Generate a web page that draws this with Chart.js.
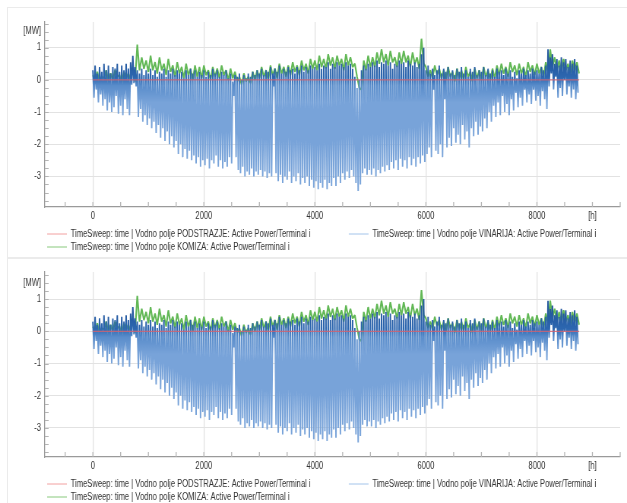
<!DOCTYPE html>
<html>
<head>
<meta charset="utf-8">
<script src="https://cdn.jsdelivr.net/npm/chart.js@4.4.1/dist/chart.umd.min.js"></script>
<style>
  body { margin: 0; background: #fff; width: 627px; height: 503px; overflow: hidden; position: relative; }
  .card { position: absolute; left: 7px; width: 640px; height: 250px; border: 1px solid #ebebeb; }
  /* the source screenshot is squeezed horizontally, so draw wide and squeeze */
  canvas { position: absolute; left: 0; transform: scaleX(0.76); transform-origin: 0 0; }
</style>
</head>
<body>
<div class="card" style="top:7px"></div>
<div class="card" style="top:257px"></div>
<canvas id="chart1" width="825" height="262" style="top:0"></canvas>
<canvas id="chart2" width="825" height="262" style="top:250px"></canvas>
<script>
// hours step between daily samples
const vinStep = 40;
const komStep = 80;

// VINARIJA: daily peaks and troughs [MW]
const vinTop = [
  0.3, 0.45, 0.2, 0.4, 0.25, 0.5, 0.3, 0.45, 0.2, 0.4, 0.35, 0.5, 0.25, 0.45, 0.3, 0.5, 0.35, 0.55, 0.75, 0.4, 0.3, 0.2, 0.35, 0.15, 0.3,
  0.2, 0.35, 0.15, 0.3, 0.1, 0.25, 0.2, 0.35, 0.1, 0.3, 0.2, 0.35, 0.15, 0.3, 0.2, 0.25, 0.05, 0.3, 0.15, 0.35, 0.2, 0.3, 0.1, 0.25, 0.15,
  0.3, 0.1, 0.25, 0.15, 0.35, 0.2, 0.3, 0.1, 0.25, 0.15, 0.3, 0.05, 0.2, -0.05, 0.15, 0.1, 0.2, 0.0, 0.15, 0.05, 0.2, 0.1, 0.25, 0.15, 0.3,
  0.2, 0.35, 0.15, 0.3, 0.25, 0.4, 0.2, 0.35, 0.25, 0.45, 0.2, 0.35, 0.25, 0.4, 0.3, 0.35, 0.2, 0.4, 0.3, 0.45, 0.25, 0.4, 0.3, 0.45, 0.35,
  0.4, 0.3, 0.5, 0.35, 0.45, 0.4, 0.55, 0.35, 0.5, 0.4, 0.55, 0.45, 0.5, 0.4, 0.55, 0.45, 0.5, 0.35, 0.1, -0.25, 0.0, 0.3, 0.45, 0.35, 0.5,
  0.4, 0.55, 0.45, 0.6, 0.4, 0.55, 0.5, 0.6, 0.45, 0.55, 0.35, 0.5, 0.45, 0.6, 0.5, 0.55, 0.4, 0.6, 0.5, 0.45, 0.55, 0.4, 0.5, 0.8, 1.0,
  0.3, 0.45, 0.2, 0.35, 0.15, 0.3, 0.45, 0.2, 0.35, 0.25, 0.4, 0.2, 0.3, 0.15, 0.35, 0.25, 0.4, 0.2, 0.3, 0.1, 0.35, 0.25, 0.4, 0.15, 0.3,
  0.25, 0.4, 0.15, 0.35, 0.2, 0.3, 0.1, 0.35, 0.25, 0.3, 0.15, 0.35, 0.2, 0.3, 0.1, 0.25, 0.05, 0.3, 0.2, 0.35, 0.15, 0.3, 0.2, 0.35, 0.25,
  0.3, 0.2, 0.4, 0.3, 0.45, 0.95, 0.7, 0.8, 0.5, 0.65, 0.45, 0.7, 0.55, 0.65, 0.4, 0.6, 0.5, 0.65, 0.45
];
const vinLow = [
  -0.55, -0.3, -0.7, -0.45, -0.8, -0.6, -0.95, -0.7, -1.0, -0.85, -0.5, -1.05, -0.8, -1.1, -0.6, -0.9, -1.1, -0.15, -0.1, -0.2, -1.15, -0.9, -1.3, -1.1, -1.4,
  -1.2, -1.5, -1.3, -1.65, -1.4, -1.8, -1.5, -1.9, -1.6, -2.0, -1.75, -2.1, -1.9, -2.3, -2.0, -2.4, -2.15, -2.45, -2.2, -2.5, -2.35, -2.6, -2.4, -2.7, -2.5,
  -2.65, -2.45, -2.75, -2.5, -2.6, -2.35, -2.7, -2.5, -2.75, -2.55, -2.7, -2.4, -2.6, -0.5, -2.4, -2.8, -2.9, -2.7, -3.0, -2.85, -2.95, -2.75, -3.0, -2.85, -2.95,
  -2.8, -3.0, -2.85, -3.05, -2.9, -3.0, -0.2, -2.9, -3.15, -2.95, -3.2, -3.0, -3.1, -2.85, -3.2, -3.0, -3.15, -2.9, -3.25, -3.05, -3.2, -3.0, -3.3, -3.1, -3.35,
  -3.15, -3.4, -3.2, -3.35, -3.1, -3.4, -3.2, -3.3, -3.05, -3.3, -3.0, -3.2, -2.9, -3.1, -2.85, -3.05, -2.8, -3.0, -3.2, -3.45, -3.25, -2.9, -2.75, -2.95, -2.8,
  -2.95, -2.75, -3.0, -2.8, -2.9, -2.7, -2.85, -2.65, -2.8, -2.55, -2.75, -2.5, -2.8, -2.45, -2.7, -2.5, -2.75, -2.4, -2.65, -2.45, -2.7, -2.4, -2.6, -2.35, -2.55,
  -2.3, -2.1, -2.4, -0.3, -2.2, -2.3, -2.0, -2.4, -0.6, -2.1, -1.8, -2.05, -1.5, -1.95, -1.7, -2.0, -1.4, -1.85, -1.6, -2.1, -1.5, -1.75, -1.3, -1.7, -1.45,
  -1.6, -1.2, -1.5, -1.0, -1.3, -0.8, -1.15, -0.7, -1.1, -0.5, -1.0, -0.75, -1.1, -0.6, -0.95, -0.4, -0.85, -0.55, -0.8, -0.3, -0.7, -0.45, -0.75, -0.3, -0.65,
  -0.5, -0.8, -0.35, -0.6, -0.9, -0.2, 0.2, -0.3, 0.1, -0.55, -0.25, -0.5, 0.0, -0.45, -0.2, -0.55, -0.3, -0.6, -0.4
];

// KOMIZA: daily peaks and troughs [MW]
const komTop = [
  0.15, 0.25, 0.1, 0.3, 0.2, 0.3, 0.15, 0.25, 0.2, 0.3, 1.1, 0.7, 0.6,
  0.75, 0.55, 0.7, 0.5, 0.65, 0.45, 0.55, 0.4, 0.5, 0.35, 0.45, 0.4,
  0.45, 0.3, 0.4, 0.35, 0.45, 0.3, 0.35, 0.25, 0.1, 0.2, 0.1, 0.25, 0.3,
  0.4, 0.3, 0.45, 0.35, 0.5, 0.4, 0.45, 0.55, 0.45, 0.6, 0.5, 0.65,
  0.6, 0.75, 0.65, 0.8, 0.7, 0.75, 0.65, 0.8, 0.7, 0.5, -0.25, 0.6, 0.75,
  0.7, 0.85, 0.95, 0.8, 0.9, 0.7, 0.85, 0.9, 0.75, 0.85, 0.7, 1.28,
  0.4, 0.3, 0.45, 0.35, 0.3, 0.4, 0.25, 0.35, 0.3, 0.4, 0.25, 0.35, 0.3,
  0.4, 0.3, 0.35, 0.45, 0.5, 0.4, 0.55, 0.45, 0.5, 0.4, 0.55, 0.45,
  0.5, 0.4, 0.55, 0.95, 0.7, 0.6, 0.65, 0.5, 0.6, 0.55
];
const komLow = [
  0.0, -0.1, 0.05, -0.05, 0.0, 0.1, -0.1, 0.05, 0.0, -0.05, 0.3, 0.35, 0.25,
  0.3, 0.2, 0.3, 0.15, 0.25, 0.1, 0.2, 0.05, 0.15, 0.0, 0.1, 0.05,
  0.15, 0.0, 0.1, 0.05, 0.15, 0.0, 0.05, -0.05, -0.15, -0.05, -0.1, 0.0, 0.05,
  0.1, 0.0, 0.15, 0.05, 0.2, 0.1, 0.15, 0.25, 0.15, 0.3, 0.2, 0.35,
  0.3, 0.4, 0.35, 0.45, 0.35, 0.45, 0.3, 0.45, 0.4, 0.1, -0.3, 0.3, 0.4,
  0.4, 0.5, 0.55, 0.45, 0.55, 0.4, 0.5, 0.55, 0.4, 0.5, 0.35, 0.5,
  0.1, 0.05, 0.15, 0.05, 0.0, 0.1, -0.05, 0.05, 0.0, 0.1, -0.05, 0.05, 0.0,
  0.1, 0.0, 0.05, 0.15, 0.2, 0.1, 0.25, 0.15, 0.2, 0.1, 0.25, 0.15,
  0.2, 0.1, 0.25, 0.4, 0.3, 0.25, 0.3, 0.15, 0.25, 0.2
];

// PODSTRAZJE stays on zero
const podHours = [0, 2000, 4000, 6000, 8000, 8760];
const podValues = [0, 0, 0, 0, 0, 0];

const xTicks = [0, 2000, 4000, 6000, 8000, 9000];
const yTicks = [-3, -2, -1, 0, 1, 1.5];

const labels = [
  "TimeSweep: time | Vodno polje PODSTRAZJE: Active Power/Terminal i",
  "TimeSweep: time | Vodno polje VINARIJA: Active Power/Terminal i",
  "TimeSweep: time | Vodno polje KOMIZA: Active Power/Terminal i"
];
const legendColors = ["#f2a0a0", "#a3c4ea", "#88c97c"];

const font = { family: "'Liberation Sans', Arial, sans-serif", size: 10 };

function zigzag(tops, lows, step) {
    const pts = [];
    tops.forEach((t, i) => {
        pts.push({ x: i * step, y: t });
        pts.push({ x: i * step + step / 2, y: lows[i] ?? t });
    });
    return pts;
}

function blueGradient(ctx) {
    const chart = ctx.chart;
    if (!chart.chartArea) return "#6f9bd6";
    const y = chart.scales.y;
    const g = chart.ctx.createLinearGradient(0, y.getPixelForValue(0.6), 0, y.getPixelForValue(-0.7));
    g.addColorStop(0, "#24589f");
    g.addColorStop(0.4, "#2d67b0");
    g.addColorStop(0.6, "#5a8dcb");
    g.addColorStop(1, "#78a3d9");
    return g;
}

// small tick marks pointing into the plot
const minorTicks = {
    id: "minorTicks",
    beforeDatasetsDraw(chart) {
        const { ctx, chartArea, scales } = chart;
        ctx.save();
        ctx.strokeStyle = "#b4b4b4";
        ctx.lineWidth = 1.3;
        ctx.beginPath();
        for (let h = -500; h <= 9500; h += 500) {
            const px = scales.x.getPixelForValue(h);
            ctx.moveTo(px, chartArea.bottom);
            ctx.lineTo(px, chartArea.bottom - 5);
        }
        ctx.stroke();
        ctx.lineWidth = 1;
        ctx.beginPath();
        for (let v = -3.75; v <= 1.75; v += 0.25) {
            const py = Math.round(scales.y.getPixelForValue(v)) + 0.5;
            ctx.moveTo(chartArea.left, py);
            ctx.lineTo(chartArea.left + 5, py);
        }
        ctx.stroke();
        ctx.restore();
    }
};

function makeChart(id, yMin, yMax) {
    new Chart(document.getElementById(id), {
        type: "line",
        data: {
            datasets: [
                {
                    label: labels[0],
                    data: podHours.map((h, i) => ({ x: h, y: podValues[i] })),
                    borderColor: "rgb(214, 98, 110)",
                    borderWidth: 1,
                    pointRadius: 0,
                },
                {
                    label: labels[1],
                    data: zigzag(vinTop, vinLow, vinStep),
                    borderColor: blueGradient,
                    borderWidth: 1.9,
                    borderJoinStyle: "bevel",
                    pointRadius: 0,
                },
                {
                    label: labels[2],
                    data: zigzag(komTop, komLow, komStep),
                    borderColor: "rgb(98, 184, 86)",
                    borderWidth: 2.1,
                    borderJoinStyle: "bevel",
                    pointRadius: 0,
                },
            ],
        },
        options: {
            responsive: false,
            animation: false,
            events: [],
            layout: { padding: { top: 22, right: 9, left: 0, bottom: 0 } },
            scales: {
                x: {
                    type: "linear",
                    min: -865,
                    max: 9500,
                    afterBuildTicks: (axis) => { axis.ticks = xTicks.map((v) => ({ value: v })); },
                    afterFit: (axis) => { axis.height = 19; },
                    grid: {
                        drawTicks: false,
                        lineWidth: 1.3,
                        color: (c) => (c.tick && c.tick.value === 9000 ? "transparent" : "#e2e2e2"),
                    },
                    border: { color: "#9a9a9a", width: 1.3 },
                    ticks: {
                        autoSkip: false,
                        maxRotation: 0,
                        padding: 3,
                        font: font,
                        color: "#333",
                        callback: (v) => (v === 9000 ? "[h]" : v),
                    },
                },
                y: {
                    min: yMin,
                    max: yMax,
                    afterBuildTicks: (axis) => { axis.ticks = yTicks.map((v) => ({ value: v })); },
                    afterFit: (axis) => { axis.width = 59; },
                    grid: {
                        drawTicks: false,
                        color: (c) => (c.tick && c.tick.value === 1.5 ? "transparent" : "#e2e2e2"),
                    },
                    border: { color: "#9a9a9a", width: 1.3 },
                    ticks: {
                        padding: 5,
                        font: font,
                        color: "#333",
                        callback: (v) => (v === 1.5 ? "[MW]" : v),
                    },
                },
            },
            plugins: {
                tooltip: { enabled: false },
                legend: {
                    position: "bottom",
                    align: "start",
                    fullSize: false,
                    labels: {
                        font: font,
                        color: "#333",
                        padding: 3,
                        usePointStyle: true,
                        pointStyle: "line",
                        pointStyleWidth: 26,
                        generateLabels: (chart) => {
                            const items = Chart.defaults.plugins.legend.labels.generateLabels(chart);
                            items.forEach((it, i) => {
                                it.strokeStyle = legendColors[i];
                                it.lineWidth = 1;
                            });
                            items[0].text += " ".repeat(17);
                            return items;
                        },
                    },
                },
            },
        },
        plugins: [minorTicks],
    });
}

makeChart("chart1", -3.95, 1.8);
makeChart("chart2", -3.9, 1.84);
</script>
</body>
</html>
